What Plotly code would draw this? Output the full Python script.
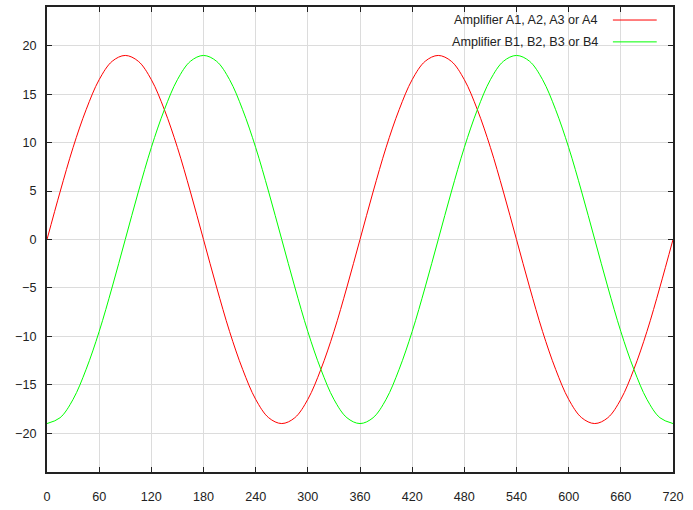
import plotly.graph_objects as go

# angle in degrees, sampled every 15 degrees
angles = list(range(0, 721, 15))

amp_a = [0, 4.9, 9.5, 13.4, 16.5, 18.4, 19, 18.4, 16.5, 13.4, 9.5, 4.9,
         0, -4.9, -9.5, -13.4, -16.5, -18.4, -19, -18.4, -16.5, -13.4, -9.5, -4.9,
         0, 4.9, 9.5, 13.4, 16.5, 18.4, 19, 18.4, 16.5, 13.4, 9.5, 4.9,
         0, -4.9, -9.5, -13.4, -16.5, -18.4, -19, -18.4, -16.5, -13.4, -9.5, -4.9, 0]

amp_b = [-19, -18.4, -16.5, -13.4, -9.5, -4.9, 0, 4.9, 9.5, 13.4, 16.5, 18.4,
         19, 18.4, 16.5, 13.4, 9.5, 4.9, 0, -4.9, -9.5, -13.4, -16.5, -18.4,
         -19, -18.4, -16.5, -13.4, -9.5, -4.9, 0, 4.9, 9.5, 13.4, 16.5, 18.4,
         19, 18.4, 16.5, 13.4, 9.5, 4.9, 0, -4.9, -9.5, -13.4, -16.5, -18.4, -19]

names = ["Amplifier A1, A2, A3 or A4", "Amplifier B1, B2, B3 or B4"]
colors = ["#ff0000", "#00ff00"]

x_ticks = list(range(0, 721, 60))
y_ticks = [-20, -15, -10, -5, 0, 5, 10, 15, 20]

fig = go.Figure()
for vals, name, col in zip([amp_a, amp_b], names, colors):
    fig.add_trace(go.Scatter(x=angles, y=vals, mode="lines", name=name,
                             line=dict(color=col, width=1, shape="spline", smoothing=1.0),
                             showlegend=False))

font = dict(family="Liberation Sans, Arial, sans-serif", size=12.6, color="#222222")

axis_common = dict(showline=True, linecolor="#222222", linewidth=2, mirror="ticks",
                   ticks="inside", ticklen=5, tickcolor="#222222", tickwidth=1,
                   showgrid=True, gridcolor="#dcdcdc", gridwidth=1, zeroline=False,
                   tickfont=font)

fig.update_layout(
    width=693, height=510,
    margin=dict(l=47, r=20, t=5, b=38),
    paper_bgcolor="white", plot_bgcolor="white",
    xaxis=dict(range=[0, 720], tickvals=x_ticks, ticklabelstandoff=12, **axis_common),
    yaxis=dict(range=[-24, 24], tickvals=y_ticks, ticklabelstandoff=6, **axis_common),
)

# legend box (gnuplot style: key text on the left, sample line on the right)
fig.add_shape(type="rect", xref="paper", yref="paper", x0=0.494, x1=1, y0=0.912, y1=1,
              fillcolor="white", line=dict(width=0), layer="between")
legend_y = [0.972, 0.925]
for name, col, ly in zip(names, colors, legend_y):
    fig.add_annotation(xref="paper", yref="paper", x=0.884, y=ly, text=name,
                       showarrow=False, xanchor="right", yanchor="middle", font=font)
    fig.add_shape(type="line", xref="paper", yref="paper", x0=0.904, x1=0.974,
                  y0=ly, y1=ly, line=dict(color=col, width=1))

fig.write_html("out.html", config={"displayModeBar": False},
               post_script="document.body.style.margin='0';document.body.style.padding='0';")
